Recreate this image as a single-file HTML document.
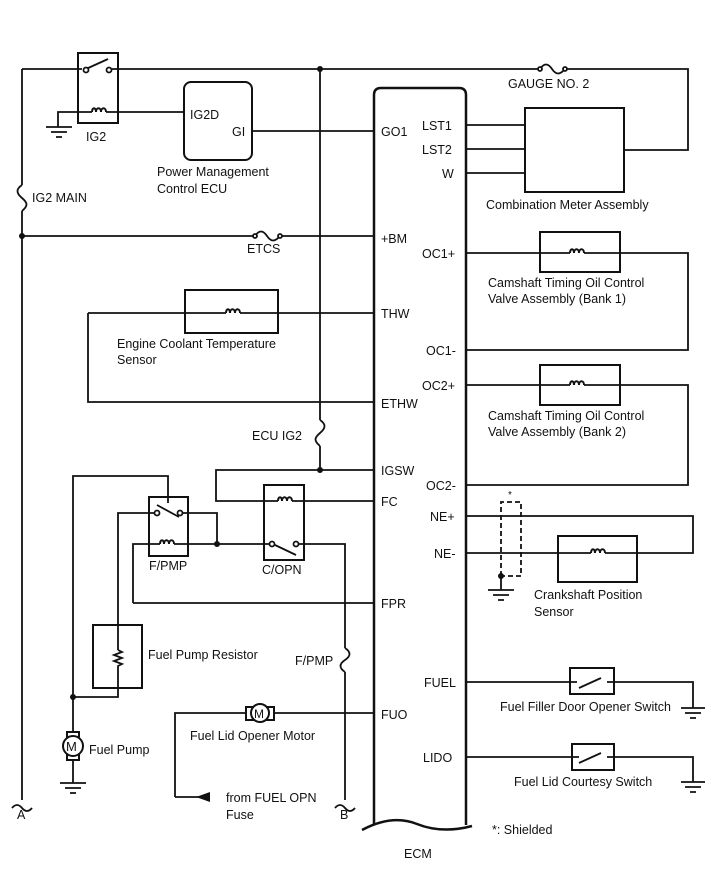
<!DOCTYPE html>
<html><head><style>body{margin:0;background:#fff}svg{display:block}text{font-family:"Liberation Sans",Arial,sans-serif;font-size:12.5px;fill:#111}</style></head><body>
<svg width="713" height="882" viewBox="0 0 713 882" xmlns="http://www.w3.org/2000/svg">
<g stroke="#111" stroke-width="1.8" fill="none">
<path d="M22 69H82M112 69H540M565 69H688V150H624"/>
<path d="M540 69c4-6 8-6 12 0s8 6 13 0"/>
<circle cx="540" cy="69" r="2" fill="#fff"/><circle cx="565" cy="69" r="2" fill="#fff"/>
<path d="M22 69V185M22 211V800"/>
<path d="M22 185c-6 4-6 8 0 13s6 8 0 13"/>
<rect x="78" y="53" width="40" height="70" stroke-width="2"/>
<path d="M86 69l22-10"/>
<circle cx="86" cy="70" r="2.5" fill="#fff"/><circle cx="109" cy="70" r="2.5" fill="#fff"/>
<path d="M58 127V112H92M106 112H184"/>
<path d="M92 112c0-5 4-5 4 0c0-5 5-5 5 0c0-5 5-5 5 0" stroke-width="2"/>
<path d="M46 127H72M51 132H67M56 137H62"/>
<rect x="184" y="82" width="68" height="78" rx="7" stroke-width="2"/>
<path d="M252 131H374"/>
<path d="M22 236H255M280 236H374"/>
<path d="M255 236c4-6 8-6 12 0s8 6 13 0"/>
<circle cx="255" cy="236" r="2" fill="#fff"/><circle cx="280" cy="236" r="2" fill="#fff"/>
<path d="M320 69V420M320 446V470H374"/>
<path d="M320 420c6 4 6 8 0 13s-6 8 0 13"/>
<path d="M374 825V95q0-7 7-7h78q7 0 7 7V825" stroke-width="2.5"/>
<path d="M362 830q30-16 55-6t55 2" stroke-width="2.5"/>
<rect x="525" y="108" width="99" height="84" stroke-width="2"/>
<path d="M466 125H525M466 149H525M466 173H525"/>
<rect x="185" y="290" width="93" height="43" stroke-width="2"/>
<path d="M88 313H226M240 313H374M88 313V402H374"/>
<path d="M226 313c0-5 4-5 4 0c0-5 5-5 5 0c0-5 5-5 5 0" stroke-width="2"/>
<rect x="540" y="232" width="80" height="40" stroke-width="2"/>
<path d="M466 253H570M584 253H688V350H466"/>
<path d="M570 253c0-5 4-5 4 0c0-5 5-5 5 0c0-5 5-5 5 0" stroke-width="2"/>
<rect x="540" y="365" width="80" height="40" stroke-width="2"/>
<path d="M466 385H570M584 385H688V485H466"/>
<path d="M570 385c0-5 4-5 4 0c0-5 5-5 5 0c0-5 5-5 5 0" stroke-width="2"/>
<path d="M466 516H693V553H605M591 553H466"/>
<rect x="558" y="536" width="79" height="46" stroke-width="2"/>
<path d="M591 553c0-5 4-5 4 0c0-5 5-5 5 0c0-5 5-5 5 0" stroke-width="2"/>
<path d="M501 576V502H521V576H501" stroke-dasharray="5 3"/>
<path d="M501 576V590M488 590H514M493 595H509M498 600H504"/>
<path d="M466 682H577M607 682H693V708M681 708H705M685 713H701M690 718H696"/>
<rect x="570" y="668" width="44" height="26" stroke-width="2"/>
<path d="M579 688l22-10"/>
<path d="M466 757H579M607 757H693V782M681 782H705M685 787H701M690 792H696"/>
<rect x="572" y="744" width="42" height="26" stroke-width="2"/>
<path d="M579 763l22-10"/>
<path d="M320 470H216V501H278M292 501H374"/>
<path d="M278 501c0-5 4-5 4 0c0-5 5-5 5 0c0-5 5-5 5 0" stroke-width="2"/>
<rect x="264" y="485" width="40" height="75" stroke-width="2"/>
<path d="M217 544H272M275 545l21 10M297 544H345V648M345 672V800"/>
<path d="M345 648c6 4 6 8 0 12s-6 8 0 12"/>
<rect x="149" y="497" width="39" height="59" stroke-width="2"/>
<path d="M73 697V476H168V503M157 505l22 12"/>
<circle cx="157" cy="513" r="2.5" fill="#fff"/><circle cx="180" cy="513" r="2.5" fill="#fff"/>
<circle cx="272" cy="544" r="2.5" fill="#fff"/><circle cx="296" cy="544" r="2.5" fill="#fff"/>
<path d="M155 513H118V650M183 513H217V544M133 603V544H160M174 544H217M133 603H374"/>
<path d="M160 544c0-5 4-5 4 0c0-5 5-5 5 0c0-5 5-5 5 0" stroke-width="2"/>
<rect x="93" y="625" width="49" height="63" stroke-width="2"/>
<path d="M118 650l4 2-8 3 8 3-8 3 8 3-4 2V697H73"/>
<path d="M73 697V732M73 760V783M60 783H86M65 788H81M70 793H76"/>
<rect x="67" y="732" width="12" height="28" stroke-width="2"/>
<circle cx="73" cy="746" r="10" fill="#fff" stroke-width="2"/>
<path d="M175 797V713H246M274 713H374"/>
<rect x="246" y="707" width="28" height="13" stroke-width="2"/>
<circle cx="260" cy="713" r="9" fill="#fff" stroke-width="2"/>
<path d="M175 797H210"/>
<path d="M12 808q5-6 10 0t10 0M335 808q5-6 10 0t10 0"/>
</g>
<g fill="#111">
<circle cx="320" cy="69" r="3"/><circle cx="22" cy="236" r="3"/><circle cx="320" cy="470" r="3"/>
<circle cx="217" cy="544" r="3"/><circle cx="73" cy="697" r="3"/><circle cx="501" cy="576" r="3"/>
<path d="M196 797l14-5v10z"/>
</g>
<text x="86" y="141">IG2</text>
<text x="190" y="119">IG2D</text>
<text x="232" y="136">GI</text>
<text x="157" y="176">Power Management</text>
<text x="157" y="193">Control ECU</text>
<text x="32" y="202">IG2 MAIN</text>
<text x="247" y="253">ETCS</text>
<text x="508" y="88">GAUGE NO. 2</text>
<text x="381" y="136">GO1</text>
<text x="422" y="130">LST1</text>
<text x="422" y="154">LST2</text>
<text x="442" y="178">W</text>
<text x="486" y="209">Combination Meter Assembly</text>
<text x="381" y="243">+BM</text>
<text x="422" y="258">OC1+</text>
<text x="488" y="287">Camshaft Timing Oil Control</text>
<text x="488" y="303">Valve Assembly (Bank 1)</text>
<text x="381" y="318">THW</text>
<text x="117" y="348">Engine Coolant Temperature</text>
<text x="117" y="364">Sensor</text>
<text x="426" y="355">OC1-</text>
<text x="422" y="390">OC2+</text>
<text x="488" y="420">Camshaft Timing Oil Control</text>
<text x="488" y="436">Valve Assembly (Bank 2)</text>
<text x="381" y="408">ETHW</text>
<text x="252" y="440">ECU IG2</text>
<text x="381" y="475">IGSW</text>
<text x="426" y="490">OC2-</text>
<text x="381" y="506">FC</text>
<text x="508" y="498" style="font-size:10px">*</text>
<text x="430" y="521">NE+</text>
<text x="434" y="558">NE-</text>
<text x="149" y="570">F/PMP</text>
<text x="262" y="574">C/OPN</text>
<text x="534" y="599">Crankshaft Position</text>
<text x="534" y="616">Sensor</text>
<text x="381" y="608">FPR</text>
<text x="148" y="659">Fuel Pump Resistor</text>
<text x="295" y="665">F/PMP</text>
<text x="424" y="687">FUEL</text>
<text x="500" y="711">Fuel Filler Door Opener Switch</text>
<text x="381" y="719">FUO</text>
<text x="190" y="740">Fuel Lid Opener Motor</text>
<text x="89" y="754">Fuel Pump</text>
<text x="423" y="762">LIDO</text>
<text x="514" y="786">Fuel Lid Courtesy Switch</text>
<text x="226" y="802">from FUEL OPN</text>
<text x="226" y="819">Fuse</text>
<text x="17" y="819">A</text>
<text x="340" y="819">B</text>
<text x="492" y="834">*: Shielded</text>
<text x="404" y="858">ECM</text>
<text x="66" y="751" style="font-size:13px">M</text>
<text x="254" y="718" style="font-size:12px">M</text>
</svg>
</body></html>
